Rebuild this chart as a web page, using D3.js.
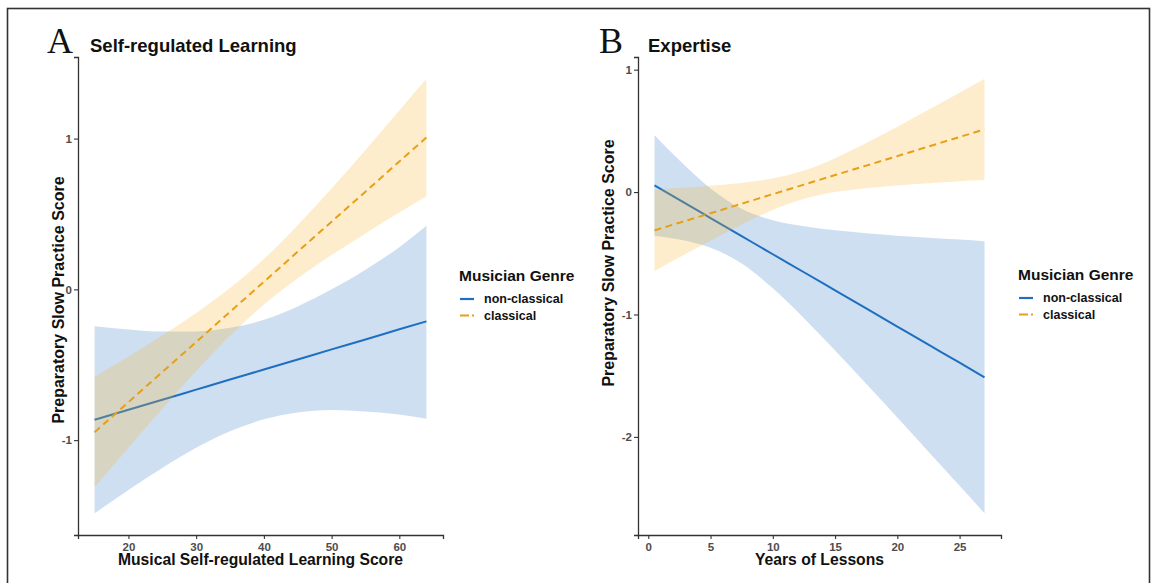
<!DOCTYPE html>
<html>
<head>
<meta charset="utf-8">
<script src="https://cdn.jsdelivr.net/npm/d3@7"></script>
<style>
  html, body { margin: 0; padding: 0; background: #fff; }
  svg { display: block; }
  text { font-family: "Liberation Sans", Arial, sans-serif; }
</style>
</head>
<body>
<svg id="chart" width="1158" height="583"></svg>
<script>
// ---------------- data ----------------
const seriesNames = ["non-classical", "classical"];
const legendTitle = "Musician Genre";
const yAxisTitle = "Preparatory Slow Practice Score";

// Panel A: Self-regulated Learning
const panelA_letter = "A";
const panelA_title = "Self-regulated Learning";
const panelA_xTitle = "Musical Self-regulated Learning Score";
const panelA_x = [15, 20, 25, 30, 35, 40, 45, 50, 55, 60, 64];
const panelA_nonclassical_fit = [-0.865, -0.798, -0.732, -0.665, -0.598, -0.532, -0.465, -0.398, -0.332, -0.265, -0.212];
const panelA_nonclassical_lo  = [-1.485, -1.330, -1.184, -1.051, -0.941, -0.862, -0.817, -0.800, -0.810, -0.830, -0.858];
const panelA_nonclassical_hi  = [-0.245, -0.266, -0.280, -0.279, -0.255, -0.202, -0.113, 0.000, 0.130, 0.280, 0.422];
const panelA_classical_fit = [-0.947, -0.748, -0.548, -0.349, -0.149, 0.050, 0.250, 0.449, 0.648, 0.848, 1.007];
const panelA_classical_lo  = [-1.312, -1.050, -0.791, -0.542, -0.307, -0.101, 0.074, 0.228, 0.371, 0.509, 0.617];
const panelA_classical_hi  = [-0.582, -0.446, -0.305, -0.156, 0.009, 0.201, 0.426, 0.670, 0.925, 1.187, 1.397];
const panelA_xTicks = [20, 30, 40, 50, 60];
const panelA_yTicks = [-1, 0, 1];

// Panel B: Expertise
const panelB_letter = "B";
const panelB_title = "Expertise";
const panelB_xTitle = "Years of Lessons";
const panelB_x = [0.5, 2.5, 5, 7.5, 10, 12.5, 15, 17.5, 20, 22.5, 25, 27];
const panelB_nonclassical_fit = [0.054, -0.064, -0.212, -0.360, -0.508, -0.655, -0.803, -0.951, -1.099, -1.247, -1.394, -1.513];
const panelB_nonclassical_lo  = [-0.356, -0.387, -0.454, -0.583, -0.786, -1.030, -1.294, -1.566, -1.842, -2.121, -2.400, -2.624];
const panelB_nonclassical_hi  = [0.464, 0.259, 0.030, -0.137, -0.230, -0.280, -0.312, -0.336, -0.356, -0.373, -0.388, -0.402];
const panelB_classical_fit = [-0.313, -0.250, -0.173, -0.095, -0.017, 0.061, 0.139, 0.216, 0.294, 0.372, 0.450, 0.512];
const panelB_classical_lo  = [-0.646, -0.533, -0.397, -0.265, -0.146, -0.054, 0.001, 0.032, 0.054, 0.072, 0.088, 0.098];
const panelB_classical_hi  = [0.020, 0.033, 0.051, 0.075, 0.112, 0.176, 0.277, 0.400, 0.534, 0.672, 0.812, 0.926];
const panelB_xTicks = [0, 5, 10, 15, 20, 25];
const panelB_yTicks = [-2, -1, 0, 1];

// ---------------- styling ----------------
const colors = { "non-classical": "#1f6fc0", "classical": "#e6a017" };
const fills  = { "non-classical": "rgba(31,111,192,0.22)", "classical": "rgba(247,178,40,0.24)" };
const dashes = { "non-classical": null, "classical": "7,4.5" };

const svg = d3.select("#chart");

// outer frame
svg.append("rect").attr("x", 7.5).attr("y", 8.5).attr("width", 1142).attr("height", 600)
  .attr("fill", "none").attr("stroke", "#333").attr("stroke-width", 1.6);

function makeSeries(x, fit, lo, hi) {
  return x.map((v, i) => ({ x: v, fit: fit[i], lo: lo[i], hi: hi[i] }));
}

function expand(ext) {
  const d = (ext[1] - ext[0]) * 0.05;
  return [ext[0] - d, ext[1] + d];
}

function drawPanel(cfg) {
  const g = svg.append("g");
  const all = cfg.series.flatMap(s => s.data);
  const x = d3.scaleLinear().domain(expand(d3.extent(all, d => d.x))).range([cfg.left, cfg.right]);
  const y = d3.scaleLinear().domain(expand([d3.min(all, d => d.lo), d3.max(all, d => d.hi)])).range([cfg.bottom, cfg.top]);

  const area = d3.area().x(d => x(d.x)).y0(d => y(d.lo)).y1(d => y(d.hi)).curve(d3.curveMonotoneX);
  const line = d3.line().x(d => x(d.x)).y(d => y(d.fit)).curve(d3.curveMonotoneX);

  cfg.series.forEach(s => {
    g.append("path").attr("d", area(s.data)).attr("fill", fills[s.name]).attr("stroke", "none");
    g.append("path").attr("d", line(s.data)).attr("fill", "none")
      .attr("stroke", colors[s.name]).attr("stroke-width", 2)
      .attr("stroke-dasharray", dashes[s.name]);
  });

  // axes
  const fmt = d => String(d);
  const xAxis = d3.axisBottom(x).tickValues(cfg.xTicks).tickFormat(fmt).tickSizeOuter(0).tickSize(4).tickPadding(2);
  const yAxis = d3.axisLeft(y).tickValues(cfg.yTicks).tickFormat(fmt).tickSizeOuter(0).tickSize(4).tickPadding(2);
  const gx = g.append("g").attr("transform", `translate(0,${cfg.bottom})`).call(xAxis);
  const gy = g.append("g").attr("transform", `translate(${cfg.left},0)`).call(yAxis);
  [gx, gy].forEach(a => {
    a.select(".domain").attr("stroke", "#333").attr("stroke-width", 1.3);
    a.selectAll(".tick line").attr("stroke", "#333").attr("stroke-width", 1.1);
    a.selectAll(".tick text").attr("fill", "#4d4d4d").style("font-size", "11.5px")
      .style("font-weight", "bold").style("font-family", "'Liberation Sans', Arial, sans-serif");
  });
  gx.selectAll(".tick text").attr("dy", "0.85em");

  // titles
  g.append("text").attr("x", cfg.letterX).attr("y", 53).text(cfg.letter)
    .style("font-family", "'Liberation Serif', 'Times New Roman', serif").style("font-size", "36px").attr("fill", "#111");
  g.append("text").attr("x", cfg.titleX).attr("y", 52).text(cfg.title)
    .style("font-size", "18.5px").style("font-weight", "bold").attr("fill", "#111");
  g.append("text").attr("x", (cfg.left + cfg.right) / 2).attr("y", 565).attr("text-anchor", "middle")
    .text(cfg.xTitle).style("font-size", "15.7px").style("font-weight", "bold").attr("fill", "#111");
  g.append("text").attr("transform", `translate(${cfg.yTitleX},${cfg.yTitleY}) rotate(-90)`)
    .attr("text-anchor", "middle").text(yAxisTitle)
    .style("font-size", "16px").style("font-weight", "bold").attr("fill", "#111");

  // legend
  const lg = g.append("g").attr("transform", `translate(${cfg.legendX},${cfg.legendY})`);
  lg.append("text").attr("x", 0).attr("y", 0).text(legendTitle)
    .style("font-size", "15.5px").style("font-weight", "bold").attr("fill", "#111");
  seriesNames.forEach((n, i) => {
    const yy = 18 + i * 16.5;
    lg.append("line").attr("x1", 1).attr("x2", 15).attr("y1", yy).attr("y2", yy)
      .attr("stroke", colors[n]).attr("stroke-width", 2.2)
      .attr("stroke-dasharray", n === "classical" ? "9,3,2,20" : null);
    lg.append("text").attr("x", 25).attr("y", yy + 4.3).text(n)
      .style("font-size", "12.5px").style("font-weight", "bold").attr("fill", "#111");
  });
}

drawPanel({
  letter: panelA_letter, title: panelA_title, xTitle: panelA_xTitle,
  left: 78, right: 443, top: 57, bottom: 535,
  letterX: 47, titleX: 90, yTitleX: 63.5, yTitleY: 300,
  legendX: 459, legendY: 281,
  xTicks: panelA_xTicks, yTicks: panelA_yTicks,
  series: [
    { name: "non-classical", data: makeSeries(panelA_x, panelA_nonclassical_fit, panelA_nonclassical_lo, panelA_nonclassical_hi) },
    { name: "classical", data: makeSeries(panelA_x, panelA_classical_fit, panelA_classical_lo, panelA_classical_hi) }
  ]
});

drawPanel({
  letter: panelB_letter, title: panelB_title, xTitle: panelB_xTitle,
  left: 638, right: 1001, top: 57, bottom: 535,
  letterX: 599, titleX: 648, yTitleX: 614, yTitleY: 263,
  legendX: 1018, legendY: 280,
  xTicks: panelB_xTicks, yTicks: panelB_yTicks,
  series: [
    { name: "non-classical", data: makeSeries(panelB_x, panelB_nonclassical_fit, panelB_nonclassical_lo, panelB_nonclassical_hi) },
    { name: "classical", data: makeSeries(panelB_x, panelB_classical_fit, panelB_classical_lo, panelB_classical_hi) }
  ]
});
</script>
</body>
</html>
